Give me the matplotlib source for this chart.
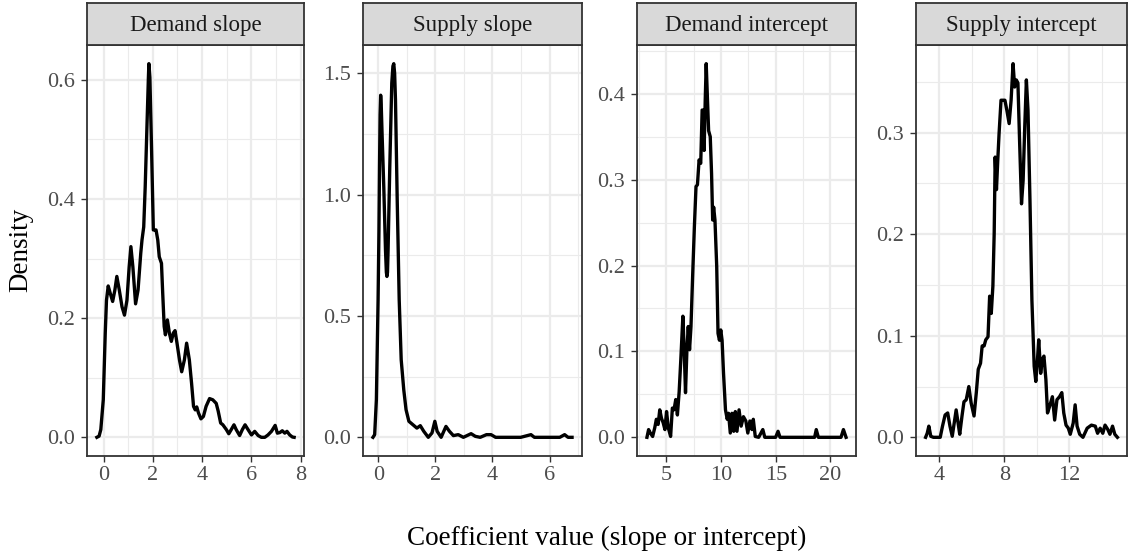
import matplotlib
matplotlib.use('Agg')
import matplotlib.pyplot as plt
from matplotlib.ticker import FixedLocator, FormatStrFormatter

# Facet titles
panel_titles = ['Demand slope', 'Supply slope', 'Demand intercept', 'Supply intercept']

# Density curves
demand_slope_x = [-0.27, -0.18, -0.11, -0.01, 0.07, 0.12, 0.19, 0.27, 0.37, 0.46, 0.54, 0.64, 0.75, 0.85,
                  0.95, 1.04, 1.11, 1.19, 1.30, 1.40, 1.51, 1.56, 1.63, 1.69, 1.76, 1.82, 1.84, 1.88, 1.95,
                  2.02, 2.07, 2.13, 2.20, 2.26, 2.35, 2.40, 2.46, 2.51, 2.59, 2.67, 2.75, 2.83, 2.90, 2.98,
                  3.08, 3.17, 3.28, 3.37, 3.48, 3.57, 3.65, 3.72, 3.78, 3.85, 3.95, 4.05, 4.16, 4.30, 4.43,
                  4.57, 4.65, 4.75, 4.84, 4.98, 5.08, 5.18, 5.29, 5.38, 5.52, 5.63, 5.74, 5.86, 6.00, 6.13,
                  6.27, 6.40, 6.54, 6.67, 6.81, 6.96, 7.05, 7.15, 7.25, 7.35, 7.44, 7.55, 7.66, 7.73]
demand_slope_y = [0.0, 0.002, 0.013, 0.063, 0.175, 0.23, 0.254, 0.242, 0.228, 0.247, 0.27, 0.247, 0.219, 0.205,
                  0.23, 0.286, 0.32, 0.286, 0.224, 0.247, 0.309, 0.331, 0.353, 0.42, 0.52, 0.604, 0.627, 0.604, 0.48,
                  0.348, 0.348, 0.348, 0.331, 0.303, 0.292, 0.242, 0.186, 0.172, 0.197, 0.175, 0.161, 0.175, 0.179, 0.158,
                  0.13, 0.11, 0.13, 0.158, 0.13, 0.091, 0.052, 0.046, 0.051, 0.041, 0.031, 0.035, 0.052, 0.065, 0.063,
                  0.057, 0.044, 0.024, 0.021, 0.013, 0.006, 0.013, 0.021, 0.013, 0.003, 0.013, 0.021, 0.013, 0.004, 0.01,
                  0.003, 0.0, 0.0, 0.004, 0.01, 0.02, 0.007, 0.008, 0.011, 0.007, 0.01, 0.004, 0.0005, 0.0]

supply_slope_x = [-0.19, -0.13, -0.07, -0.01, 0.02, 0.04, 0.06, 0.08, 0.10, 0.13, 0.19, 0.25, 0.28, 0.30,
                  0.32, 0.34, 0.40, 0.47, 0.51, 0.54, 0.57, 0.60, 0.66, 0.73, 0.80, 0.89, 0.97, 1.07, 1.21,
                  1.35, 1.47, 1.59, 1.75, 1.88, 1.98, 2.06, 2.20, 2.37, 2.49, 2.63, 2.80, 2.98, 3.25, 3.40,
                  3.57, 3.79, 3.95, 4.11, 4.99, 5.35, 5.47, 6.36, 6.53, 6.65, 6.79]
supply_slope_y = [0.0, 0.011, 0.155, 0.567, 0.85, 1.116, 1.33, 1.41, 1.37, 1.25, 1.03, 0.77, 0.68, 0.663,
                  0.68, 0.77, 1.116, 1.46, 1.53, 1.54, 1.50, 1.39, 0.98, 0.567, 0.32, 0.196, 0.114, 0.066, 0.052,
                  0.038, 0.048, 0.025, 0.0, 0.018, 0.066, 0.025, 0.0, 0.045, 0.025, 0.007, 0.011, 0.0, 0.015, 0.004,
                  0.0, 0.011, 0.011, 0.0, 0.0, 0.011, 0.0, 0.0, 0.011, 0.0, 0.0]

demand_intercept_x = [3.24, 3.39, 3.55, 3.76, 3.95, 4.10, 4.26, 4.41, 4.57, 4.72, 4.88, 5.03, 5.19, 5.40,
                      5.56, 5.71, 5.87, 6.02, 6.18, 6.33, 6.52, 6.64, 6.76, 6.89, 7.01, 7.13, 7.26, 7.41,
                      7.57, 7.72, 7.85, 8.00, 8.15, 8.28, 8.37, 8.46, 8.56, 8.65, 8.77, 8.87, 9.02, 9.14,
                      9.24, 9.33, 9.45, 9.61, 9.73, 9.86, 9.98, 10.10, 10.23, 10.41, 10.57, 10.69, 10.85,
                      11.00, 11.16, 11.31, 11.46, 11.65, 11.84, 12.05, 12.27, 12.45, 12.64, 12.83, 12.95,
                      13.13, 13.44, 13.82, 14.00, 14.99, 15.21, 15.39, 18.55, 18.70, 18.89, 20.96, 21.18, 21.42]
demand_intercept_y = [0.0, 0.009, 0.005, 0.001, 0.011, 0.021, 0.015, 0.032, 0.022, 0.017, 0.009, 0.030, 0.011, 0.001,
                      0.034, 0.032, 0.044, 0.026, 0.053, 0.09, 0.141, 0.102, 0.052, 0.102, 0.129, 0.102, 0.129, 0.187,
                      0.245, 0.292, 0.294, 0.323, 0.319, 0.381, 0.381, 0.334, 0.392, 0.435, 0.392, 0.357, 0.35, 0.307,
                      0.253, 0.268, 0.253, 0.199, 0.121, 0.113, 0.125, 0.113, 0.075, 0.032, 0.021, 0.028, 0.005,
                      0.028, 0.007, 0.030, 0.007, 0.032, 0.013, 0.024, 0.019, 0.005, 0.019, 0.009, 0.021,
                      0.001, 0.0, 0.009, 0.0, 0.0, 0.007, 0.0, 0.0, 0.009, 0.0, 0.0, 0.009, 0.0]

supply_intercept_x = [3.16, 3.26, 3.36, 3.48, 3.64, 4.06, 4.20, 4.36, 4.52, 4.66, 4.80, 4.92, 5.04, 5.16,
                      5.26, 5.40, 5.52, 5.66, 5.82, 5.96, 6.14, 6.28, 6.40, 6.54, 6.64, 6.76, 6.86, 7.00,
                      7.10, 7.20, 7.30, 7.38, 7.44, 7.52, 7.60, 7.68, 7.80, 7.92, 8.04, 8.16, 8.30, 8.42,
                      8.54, 8.64, 8.74, 8.84, 8.94, 9.06, 9.16, 9.26, 9.36, 9.46, 9.58, 9.70, 9.84, 9.94,
                      10.04, 10.12, 10.24, 10.34, 10.44, 10.56, 10.66, 10.80, 10.96, 11.10, 11.24, 11.40,
                      11.54, 11.66, 11.80, 11.94, 12.06, 12.24, 12.36, 12.48, 12.64, 12.84, 13.10, 13.36,
                      13.60, 13.74, 13.90, 14.06, 14.20, 14.36, 14.50, 14.66, 14.80, 14.96]
supply_intercept_y = [0.0, 0.004, 0.011, 0.001, 0.0, 0.0, 0.011, 0.022, 0.024, 0.011, 0.001, 0.014, 0.027, 0.014,
                      0.003, 0.021, 0.035, 0.037, 0.05, 0.034, 0.021, 0.044, 0.067, 0.073, 0.09, 0.09, 0.096, 0.099,
                      0.139, 0.122, 0.149, 0.201, 0.276, 0.244, 0.273, 0.299, 0.332, 0.332, 0.332, 0.322, 0.309, 0.332,
                      0.368, 0.345, 0.352, 0.349, 0.293, 0.23, 0.253, 0.306, 0.352, 0.322, 0.234, 0.135, 0.07, 0.055,
                      0.076, 0.096, 0.063, 0.077, 0.08, 0.057, 0.024, 0.031, 0.04, 0.017, 0.037, 0.04,
                      0.044, 0.024, 0.012, 0.009, 0.003, 0.014, 0.032, 0.011, 0.003, 0.0, 0.009, 0.012,
                      0.011, 0.004, 0.009, 0.004, 0.012, 0.008, 0.003, 0.011, 0.003, 0.0]

x_breaks = [[0, 2, 4, 6, 8], [0, 2, 4, 6], [5, 10, 15, 20], [4, 8, 12]]
y_breaks = [[0.0, 0.2, 0.4, 0.6], [0.0, 0.5, 1.0, 1.5], [0.0, 0.1, 0.2, 0.3, 0.4], [0.0, 0.1, 0.2, 0.3]]

x_label = 'Coefficient value (slope or intercept)'
y_label = 'Density'

SERIF = ['Liberation Serif', 'DejaVu Serif']
plt.rcParams['font.family'] = SERIF


def expand(vals, mult=0.05):
    lo, hi = min(vals), max(vals)
    pad = (hi - lo) * mult
    return lo - pad, hi + pad


def minor_breaks(major, lims):
    step = major[1] - major[0]
    cand = [major[0] - step / 2] + [m + step / 2 for m in major]
    return [c for c in cand if lims[0] <= c <= lims[1]]


def draw_panel(fig, rect, title, xs, ys, xb, yb, yfmt):
    W, H = 1130.0, 552.0
    left, right, top, bottom = rect
    ax = fig.add_axes([left / W, 1 - bottom / H, (right - left) / W, (bottom - top) / H])
    strip = fig.add_axes([left / W, 1 - (top) / H, (right - left) / W, (top - 3) / H])

    xlim = expand(xs)
    ylim = expand([0.0] + ys)
    ax.plot(xs, ys, color='black', lw=2.4, solid_joinstyle='round', zorder=3)
    ax.set_xlim(xlim)
    ax.set_ylim(ylim)

    ax.xaxis.set_major_locator(FixedLocator(xb))
    ax.yaxis.set_major_locator(FixedLocator(yb))
    ax.xaxis.set_minor_locator(FixedLocator(minor_breaks(xb, xlim)))
    ax.yaxis.set_minor_locator(FixedLocator(minor_breaks(yb, ylim)))
    ax.yaxis.set_major_formatter(FormatStrFormatter(yfmt))

    ax.grid(which='major', color='#EBEBEB', lw=1.6, zorder=0)
    ax.grid(which='minor', color='#EBEBEB', lw=0.8, zorder=0)
    ax.set_axisbelow(True)
    ax.tick_params(which='major', length=4.2, width=1.0, color='#333333',
                   labelsize=16, labelcolor='#4D4D4D', pad=3.3)
    ax.tick_params(axis='y', which='major', pad=4.5)
    ax.tick_params(which='minor', length=0)
    for s in ax.spines.values():
        s.set_color('#333333')
        s.set_linewidth(1.3)

    strip.set_facecolor('#D9D9D9')
    strip.set_xticks([])
    strip.set_yticks([])
    for s in strip.spines.values():
        s.set_color('#333333')
        s.set_linewidth(1.3)
    strip.text(0.5, 0.47, title, ha='center', va='center', fontsize=16.5,
               color='#1A1A1A', transform=strip.transAxes)
    return ax


def main():
    fig = plt.figure(figsize=(11.3, 5.52), dpi=100)

    # panel pixel boxes: left, right, top, bottom
    rects = [(87, 304, 45, 456), (363, 582, 45, 456), (637, 856, 45, 456), (916, 1127, 45, 456)]
    series = [(demand_slope_x, demand_slope_y), (supply_slope_x, supply_slope_y),
              (demand_intercept_x, demand_intercept_y), (supply_intercept_x, supply_intercept_y)]

    for i in range(4):
        draw_panel(fig, rects[i], panel_titles[i], series[i][0], series[i][1],
                   x_breaks[i], y_breaks[i], '%.1f')

    fig.text(607 / 1130, 1 - 538 / 552, x_label, ha='center', va='center', fontsize=19.5, color='black')
    fig.text(21 / 1130, 1 - 250 / 552, y_label, ha='center', va='center', rotation=90,
             fontsize=19.5, color='black')

    fig.savefig('out.png', dpi=100)


if __name__ == "__main__":
    main()
